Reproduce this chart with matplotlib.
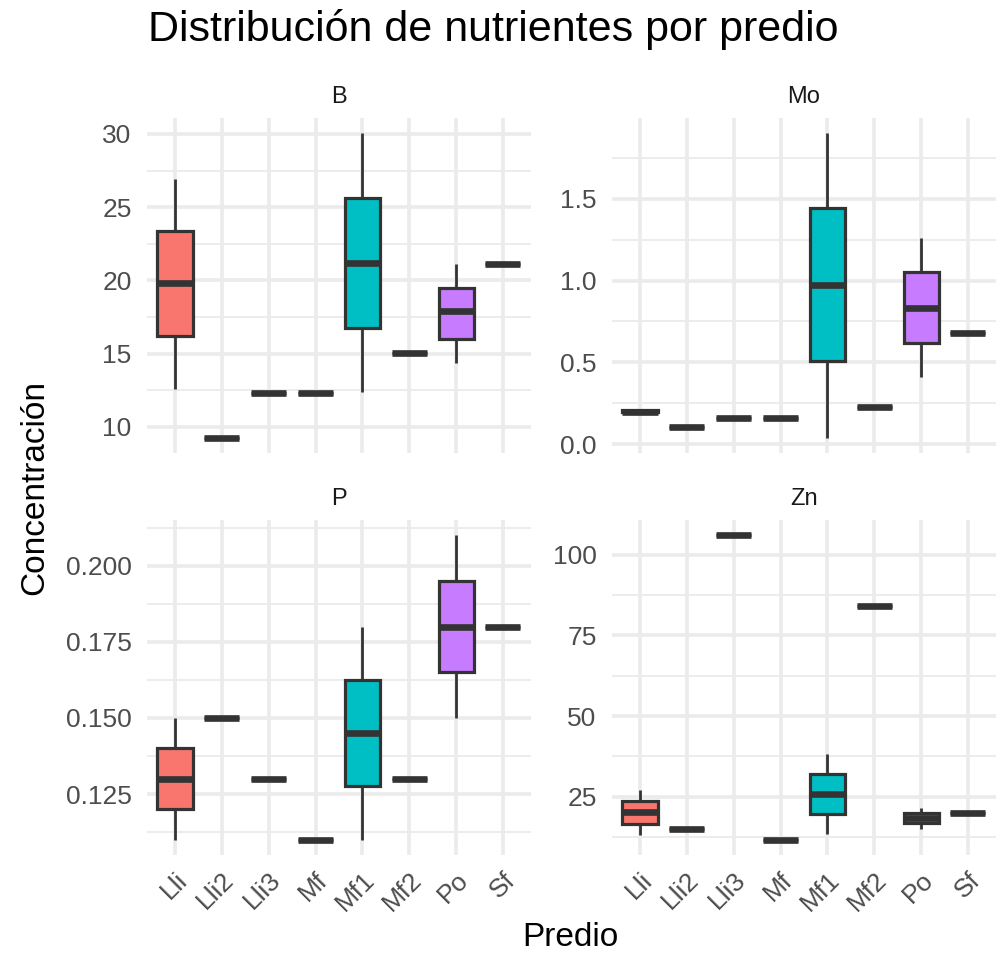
import matplotlib
matplotlib.use("Agg")
import matplotlib.pyplot as plt
from matplotlib.ticker import MultipleLocator, FormatStrFormatter

plt.rcParams["font.family"] = ["Liberation Sans", "DejaVu Sans"]

# --------- DATA ---------
predios = ["Lli", "Lli2", "Lli3", "Mf", "Mf1", "Mf2", "Po", "Sf"]

# (whisker low, q1, median, q3, whisker high) per predio
b_vals = [(12.6, 16.2, 19.8, 23.4, 26.9), (9.25,) * 5, (12.3,) * 5, (12.3,) * 5,
          (12.35, 16.75, 21.2, 25.6, 30.05), (15.05,) * 5,
          (14.35, 16.0, 17.9, 19.45, 21.1), (21.1,) * 5]
mo_vals = [(0.19, 0.195, 0.20, 0.21, 0.215), (0.106,) * 5, (0.159,) * 5, (0.159,) * 5,
           (0.04, 0.506, 0.975, 1.44, 1.90), (0.23,) * 5,
           (0.41, 0.62, 0.835, 1.05, 1.26), (0.678,) * 5]
p_vals = [(0.110, 0.120, 0.130, 0.140, 0.150), (0.150,) * 5, (0.130,) * 5, (0.110,) * 5,
          (0.110, 0.1275, 0.145, 0.1624, 0.180), (0.130,) * 5,
          (0.150, 0.165, 0.180, 0.195, 0.210), (0.180,) * 5]
zn_vals = [(13.2, 16.6, 20.2, 23.6, 27.0), (15.1,) * 5, (106.0,) * 5, (11.7,) * 5,
           (13.6, 19.8, 26.0, 32.2, 38.4), (84.0,) * 5,
           (15.1, 16.9, 18.4, 20.0, 21.5), (20.0,) * 5]

b_ticks = [10, 15, 20, 25, 30]
mo_ticks = [0.0, 0.5, 1.0, 1.5]
p_ticks = [0.125, 0.150, 0.175, 0.200]
zn_ticks = [25, 50, 75, 100]

fills = {"Lli": "#F8766D", "Mf1": "#00BFC4", "Po": "#C77CFF"}
# ---------------------------------------------------

LINE = "#333333"
GRID = "#EBEBEB"


def draw_panel(ax, title, vals, ticks, minor_step, fmt):
    stats = []
    for name, v in zip(predios, vals):
        lo, q1, med, q3, hi = v
        stats.append(dict(label=name, whislo=lo, q1=q1, med=med, q3=q3, whishi=hi, fliers=[]))

    bp = ax.bxp(stats, positions=range(1, len(predios) + 1), widths=0.75,
                patch_artist=True, showcaps=False, showfliers=False,
                boxprops=dict(edgecolor=LINE, linewidth=2.3),
                whiskerprops=dict(color=LINE, linewidth=2.0, solid_capstyle="butt"),
                medianprops=dict(color=LINE, linewidth=4.8, solid_capstyle="butt"))
    for patch, name in zip(bp["boxes"], predios):
        patch.set_facecolor(fills.get(name, "white"))
        patch.set_zorder(3)
    for ln in bp["whiskers"]:
        ln.set_zorder(3)
    for ln in bp["medians"]:
        ln.set_zorder(4)

    # ggplot style expansion
    lo = min(v[0] for v in vals)
    hi = max(v[4] for v in vals)
    pad = (hi - lo) * 0.05
    ax.set_ylim(lo - pad, hi + pad)
    ax.set_xlim(0.4, len(predios) + 0.6)

    ax.set_yticks(ticks)
    ax.yaxis.set_major_formatter(FormatStrFormatter(fmt))
    ax.yaxis.set_minor_locator(MultipleLocator(minor_step))
    ax.set_xticks(range(1, len(predios) + 1))
    ax.set_xticklabels(predios, rotation=45, ha="right", rotation_mode="anchor")

    ax.grid(True, which="major", color=GRID, linewidth=2.6, zorder=0)
    ax.grid(True, which="minor", axis="y", color=GRID, linewidth=1.3, zorder=0)
    ax.set_axisbelow(True)
    for s in ax.spines.values():
        s.set_visible(False)
    ax.tick_params(which="both", length=0, labelsize=19, labelcolor="#4D4D4D")
    ax.tick_params(axis="y", pad=11)
    ax.tick_params(axis="x", pad=9)
    ax.set_title(title, fontsize=17, color="#1A1A1A", pad=11)


def main():
    fig = plt.figure(figsize=(9.97, 9.55), dpi=100)
    w, h = 0.3852, 0.3508
    ax_b = fig.add_axes([0.1474, 0.5257, w, h])
    ax_mo = fig.add_axes([0.6138, 0.5257, w, h])
    ax_p = fig.add_axes([0.1474, 0.1047, w, h])
    ax_zn = fig.add_axes([0.6138, 0.1047, w, h])

    draw_panel(ax_b, "B", b_vals, b_ticks, 2.5, "%g")
    draw_panel(ax_mo, "Mo", mo_vals, mo_ticks, 0.25, "%.1f")
    draw_panel(ax_p, "P", p_vals, p_ticks, 0.0125, "%.3f")
    draw_panel(ax_zn, "Zn", zn_vals, zn_ticks, 12.5, "%g")

    for ax in (ax_b, ax_mo):
        ax.set_xticklabels([])

    fig.text(0.1484, 0.969, "Distribución de nutrientes por predio", fontsize=31,
             ha="left", va="center")
    fig.text(0.035, 0.49, "Concentración", fontsize=24, rotation=90,
             ha="center", va="center")
    fig.text(0.572, 0.018, "Predio", fontsize=24, ha="center", va="center")

    fig.savefig("out.png", dpi=100)


if __name__ == "__main__":
    main()
